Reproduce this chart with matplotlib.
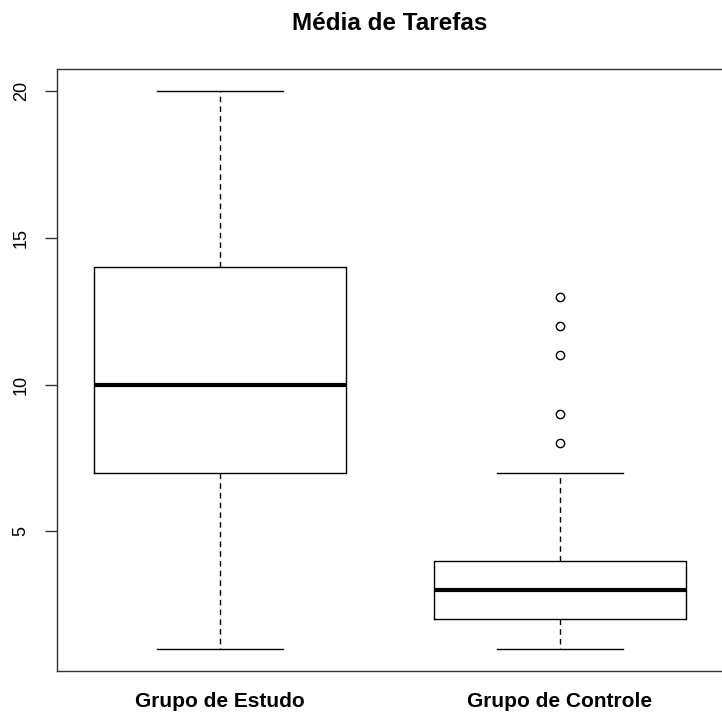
import matplotlib
matplotlib.use("Agg")
import matplotlib.pyplot as plt

plt.rcParams['font.family'] = ['Liberation Sans', 'DejaVu Sans']

groups = ['Grupo de Estudo', 'Grupo de Controle']
mins = [1, 1]
q1s = [7, 2]
medians = [10, 3]
q3s = [14, 4]
maxs = [20, 7]
outliers = [[], [8, 9, 11, 12, 13]]


def main():
    stats = []
    for i in range(len(groups)):
        stats.append({'whislo': mins[i], 'q1': q1s[i], 'med': medians[i],
                      'q3': q3s[i], 'whishi': maxs[i], 'fliers': outliers[i],
                      'label': groups[i]})

    fig = plt.figure(figsize=(7.22, 7.15), dpi=100)
    ax = fig.add_axes([57 / 722, 1 - 671 / 715, 666 / 722, (671 - 69) / 715])

    ax.bxp(stats, positions=[1, 2], widths=0.74, capwidths=0.37,
           boxprops=dict(color='black', linewidth=1),
           whiskerprops=dict(color='black', linewidth=1, linestyle=(0, (4, 3))),
           capprops=dict(color='black', linewidth=1),
           medianprops=dict(color='black', linewidth=3, solid_capstyle='butt'),
           flierprops=dict(marker='o', markerfacecolor='none', markeredgecolor='black',
                           markersize=6, markeredgewidth=1))

    ax.set_xlim(0.52, 2.48)
    ax.set_ylim(0.24, 20.76)
    ax.set_yticks([5, 10, 15, 20])
    ax.set_yticklabels(['5', '10', '15', '20'], rotation=90, va='center', fontsize=13)
    ax.tick_params(axis='y', length=8.6, width=1, pad=11, colors='#333333',
                   labelcolor='black')
    ax.tick_params(axis='x', length=0, pad=15)
    ax.set_xticklabels(groups, fontsize=15, fontweight='bold')

    ax.spines['right'].set_visible(False)
    for side in ['left', 'top', 'bottom']:
        ax.spines[side].set_color('#333333')
        ax.spines[side].set_linewidth(1)

    ax.set_title('Média de Tarefas', fontsize=17.5, fontweight='bold', pad=28)
    fig.savefig('out.png', dpi=100)


if __name__ == '__main__':
    main()
